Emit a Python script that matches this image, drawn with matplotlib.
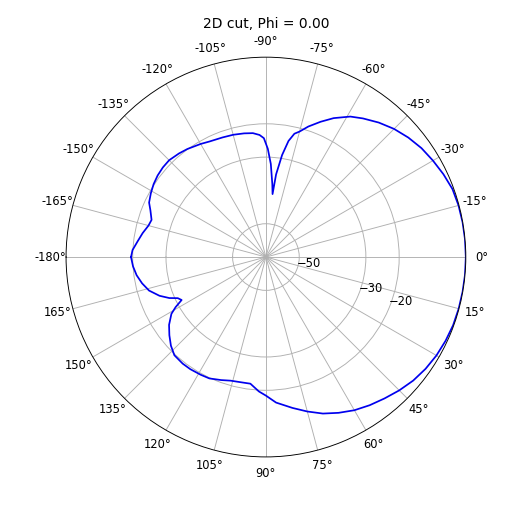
import numpy as np
import matplotlib
matplotlib.use("Agg")
import matplotlib.pyplot as plt

# 2D cut of the radiation pattern, Phi = 0 (angles in degrees, gain in dB)
theta_deg = [-180, -177, -173, -169, -165, -162, -158, -155, -151, -147, -143,
             -139, -135, -130, -126, -120, -116, -110, -105, -100, -96, -93,
             -91, -89, -87, -85, -84, -83, -81, -79, -77, -75, -72, -68, -64,
             -59, -55, -50, -45, -40, -35, -30, -25, -20, -15, -10, -5, 0, 5,
             10, 15, 20, 25, 30, 35, 40, 45, 50, 55, 60, 65, 70, 75, 80, 86,
             90, 93, 97, 100, 106, 110, 115, 119, 124, 128, 133, 137, 141, 145,
             149, 151, 153, 155, 157, 160, 164, 168, 172, 176, 180]
gain_db = [-19.5, -19.9, -21.2, -22.3, -23.5, -23.9, -22.6, -21.3, -20.5, -19.8,
           -19.3, -19.0, -18.9, -19.4, -19.9, -20.8, -21.4, -21.8, -22.0, -22.3,
           -22.6, -23.3, -24.3, -27.5, -32.0, -38.0, -41.0, -35.0, -29.0, -24.5,
           -22.0, -21.0, -18.8, -16.2, -13.6, -10.8, -9.2, -7.3, -5.6, -4.2,
           -3.0, -2.1, -1.2, -0.4, -0.15, -0.05, 0.0, 0.0, 0.0, -0.05, -0.1,
           -0.2, -0.5, -0.9, -1.5, -2.3, -3.4, -4.6, -5.7, -6.9, -8.4, -10.0,
           -12.0, -14.0, -16.2, -18.4, -19.6, -21.7, -21.7, -21.4, -20.7, -19.8,
           -19.6, -19.4, -19.4, -19.7, -21.0, -22.7, -24.5, -26.9, -29.0, -31.6,
           -30.8, -28.5, -26.0, -23.5, -22.0, -20.8, -20.0, -19.5]

theta_ticks = list(range(-180, 180, 15))
theta_labels = [f"{t}\N{DEGREE SIGN}" for t in theta_ticks]
r_ticks = [-50, -30, -20]

fig = plt.figure(figsize=(524 / 83, 506 / 83), dpi=83)
ax = fig.add_axes([0.126, 0.097, 0.763, 0.79], projection="polar")
ax.set_theta_zero_location("E")
ax.set_theta_direction(-1)

ax.plot(np.deg2rad(theta_deg), gain_db, color="#0000ee", lw=1.5)

ax.set_rlim(-60, 0)
ax.set_rticks(r_ticks)
ax.set_xticks(np.deg2rad(theta_ticks))
ax.set_xticklabels(theta_labels)
ax.set_thetalim(-np.pi, np.pi)
ax.set_title("2D cut, Phi = 0.00")

fig.savefig("out.png", dpi=83)
